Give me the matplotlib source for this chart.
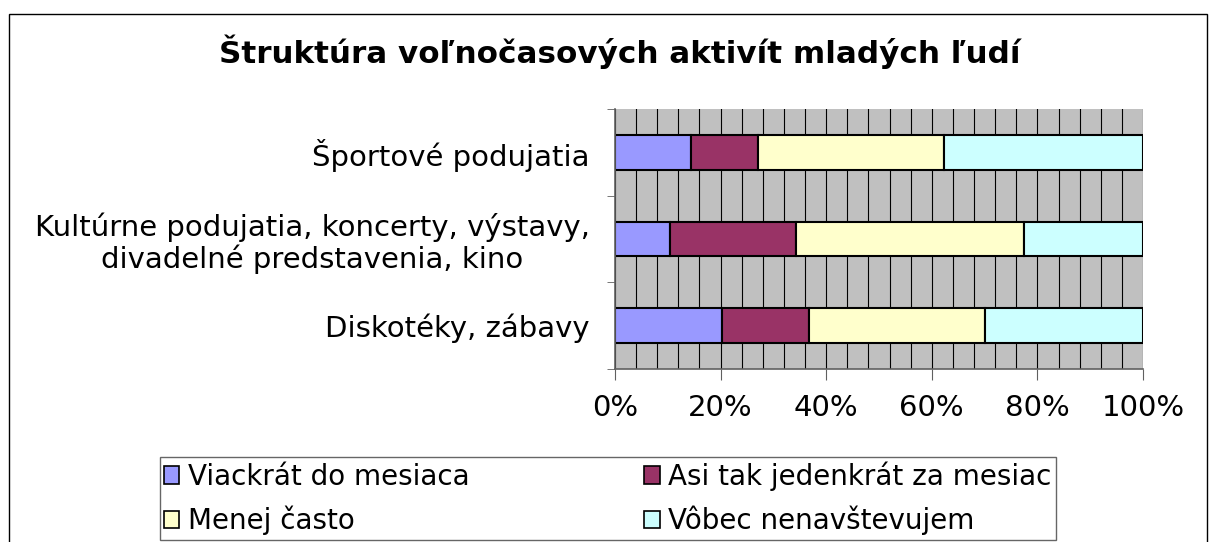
import numpy as np
import matplotlib
matplotlib.use("Agg")
import matplotlib.pyplot as plt
from matplotlib.patches import Rectangle, Patch

plt.rcParams['font.family'] = ['DejaVu Sans']

# categories from bottom to top, as drawn
categories = ['Diskotéky, zábavy',
              'Kultúrne podujatia, koncerty, výstavy,\ndivadelné predstavenia, kino',
              'Športové podujatia']
series_names = ['Viackrát do mesiaca', 'Asi tak jedenkrát za mesiac',
                'Menej často', 'Vôbec nenavštevujem']
viackrat = [20.2, 10.5, 14.4]
jedenkrat = [16.5, 23.8, 12.7]
menej = [33.4, 43.1, 35.2]
vobec = [29.9, 22.6, 37.7]
colors = ['#9999FF', '#993366', '#FFFFCC', '#CCFFFF']
xtick_values = [0, 20, 40, 60, 80, 100]
xtick_labels = ['0%', '20%', '40%', '60%', '80%', '100%']

fig = plt.figure(figsize=(12.15, 5.42), dpi=100)
ax = fig.add_axes([615 / 1215, 1 - 369 / 542, 528 / 1215, 260 / 542])
ax.set_facecolor('#C0C0C0')

y = np.arange(len(categories))
left = np.zeros(len(categories))
for vals, name, col in zip([viackrat, jedenkrat, menej, vobec], series_names, colors):
    ax.barh(y, vals, left=left, height=0.4, color=col, edgecolor='black',
            linewidth=1.5, label=name)
    left = left + np.array(vals)

ax.set_xlim(0, 100)
ax.set_ylim(-0.5, 2.5)
ax.set_xticks(xtick_values)
ax.set_xticklabels(xtick_labels, fontsize=21)
ax.set_xticks(np.arange(0, 101, 4), minor=True)
ax.set_yticks(y)
ax.set_yticklabels(categories, fontsize=21, multialignment='center', linespacing=1.1)
ax.set_yticks([-0.5, 0.5, 1.5, 2.5], minor=True)

ax.set_axisbelow(True)
ax.grid(True, which='both', axis='x', color='black', linewidth=0.8)
ax.tick_params(axis='x', which='major', direction='out', length=8, pad=10, color='#606060')
ax.tick_params(axis='x', which='minor', length=0)
ax.tick_params(axis='y', which='major', length=0, pad=18)
ax.tick_params(axis='y', which='minor', direction='out', length=6, color='#606060')
for s in ['top', 'right']:
    ax.spines[s].set_visible(False)
for s in ['left', 'bottom']:
    ax.spines[s].set_color('#606060')
    ax.spines[s].set_linewidth(1.2)

fig.text(620 / 1215, 1 - 52 / 542, 'Štruktúra voľnočasových aktivít mladých ľudí',
         fontsize=22.3, fontweight='bold', ha='center', va='center')

handles = [Patch(facecolor=c, edgecolor='black', linewidth=1.2) for c in colors]
order = [0, 2, 1, 3]
leg = fig.legend([handles[i] for i in order], [series_names[i] for i in order],
                 ncol=2, loc='upper left', bbox_to_anchor=(160 / 1215, 1 - 457 / 542),
                 fontsize=20, frameon=True, fancybox=False, handlelength=0.55,
                 handleheight=0.6, handletextpad=0.3, columnspacing=6.3,
                 labelspacing=0.55, borderpad=0.15, borderaxespad=0)
leg.get_frame().set_edgecolor('#404040')
leg.get_frame().set_linewidth(1)

fig.patches.append(Rectangle((9 / 1215, -0.02), 1198 / 1215, 1 - 14 / 542 + 0.02,
                             transform=fig.transFigure, fill=False,
                             edgecolor='black', linewidth=1))

fig.savefig('out.png', dpi=100)
